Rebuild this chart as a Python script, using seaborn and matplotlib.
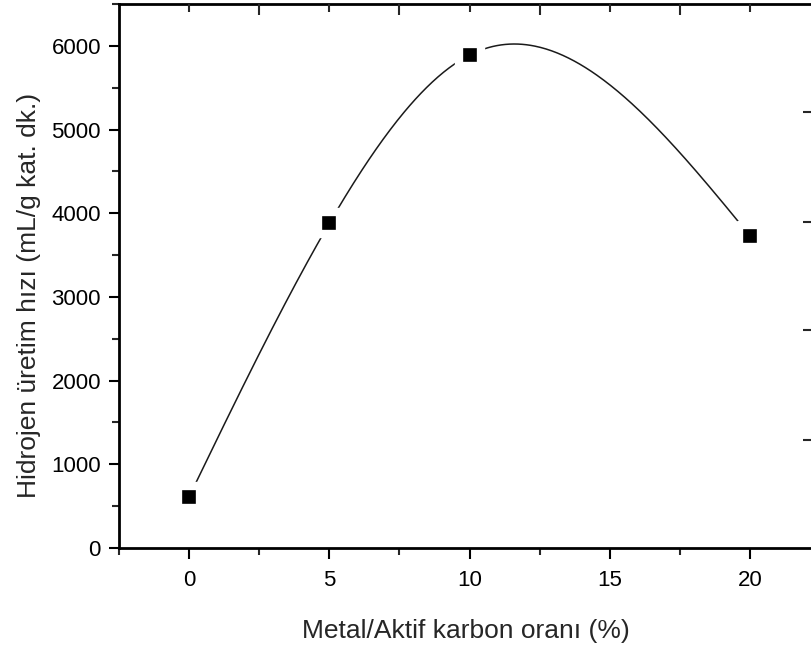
import numpy as np
import pandas as pd
import matplotlib
matplotlib.use("Agg")
import matplotlib.pyplot as plt
import seaborn as sns
from matplotlib.ticker import MultipleLocator, FixedLocator, NullFormatter

# ---- data ----
ratio = [0, 5, 10, 20]                       # Metal/Aktif karbon oranı (%)
rate = [612, 3880, 5890, 3732]               # mL/g kat. dk.
x_ticks = [0, 5, 10, 15, 20]
y_ticks = [0, 1000, 2000, 3000, 4000, 5000, 6000]
right_ticks = [1296, 2604, 3900, 5208]
xlabel = "Metal/Aktif karbon oranı (%)"
ylabel = "Hidrojen üretim hızı (mL/g kat. dk.)"


def natural_spline(xk, yk, xs):
    xk = np.asarray(xk, float)
    yk = np.asarray(yk, float)
    n = len(xk)
    h = np.diff(xk)
    A = np.zeros((n, n))
    b = np.zeros(n)
    A[0, 0] = A[-1, -1] = 1
    for i in range(1, n - 1):
        A[i, i - 1] = h[i - 1]
        A[i, i] = 2 * (h[i - 1] + h[i])
        A[i, i + 1] = h[i]
        b[i] = 6 * ((yk[i + 1] - yk[i]) / h[i] - (yk[i] - yk[i - 1]) / h[i - 1])
    M = np.linalg.solve(A, b)
    out = np.empty_like(xs)
    for j, x in enumerate(xs):
        i = min(max(np.searchsorted(xk, x) - 1, 0), n - 2)
        t1 = xk[i + 1] - x
        t0 = x - xk[i]
        out[j] = (M[i] * t1 ** 3 + M[i + 1] * t0 ** 3) / (6 * h[i]) \
            + (yk[i] / h[i] - M[i] * h[i] / 6) * t1 \
            + (yk[i + 1] / h[i] - M[i + 1] * h[i] / 6) * t0
    return out


xs = np.linspace(ratio[0], ratio[-1], 400)
curve = pd.DataFrame({"x": xs, "y": natural_spline(ratio, rate, xs)})
pts = pd.DataFrame({"x": ratio, "y": rate})

sns.set_style("ticks")
plt.rcParams["font.family"] = ["Liberation Sans", "DejaVu Sans"]

fig = plt.figure(figsize=(8.12, 6.46), dpi=100)
ax = fig.add_axes([119 / 812, 98 / 646, 694 / 812, 544 / 646])

sns.lineplot(data=curve, x="x", y="y", ax=ax, color="#1a1a1a", linewidth=1.1,
             sort=False, estimator=None, zorder=2)
sns.scatterplot(data=pts, x="x", y="y", ax=ax, marker="s", s=256, color="black",
                edgecolor="white", linewidth=6, zorder=3)

ax.set_xlim(-2.5, 22.25)
ax.set_ylim(0, 6500)
ax.xaxis.set_major_locator(FixedLocator(x_ticks))
ax.xaxis.set_minor_locator(MultipleLocator(2.5))
ax.yaxis.set_major_locator(FixedLocator(y_ticks))
ax.yaxis.set_minor_locator(MultipleLocator(500))
ax.tick_params(axis="both", which="major", direction="out", length=7, width=1.5,
               labelsize=16, colors="black", pad=6)
ax.tick_params(axis="both", which="minor", direction="out", length=5, width=1.5)
ax.tick_params(axis="x", which="major", length=8, pad=8)
ax.set_xlabel(xlabel, fontsize=19, labelpad=20)
ax.set_ylabel(ylabel, fontsize=19)
ax.yaxis.set_label_coords(-0.112, 0.465)
for sp in ax.spines.values():
    sp.set_linewidth(2)
    sp.set_color("black")
    sp.set_visible(True)

# top ticks (inward)
axt = ax.twiny()
axt.set_xlim(ax.get_xlim())
axt.xaxis.set_major_locator(FixedLocator([2.5, 7.5, 12.5, 17.5]))
axt.xaxis.set_minor_locator(FixedLocator([0, 5, 10, 15, 20]))
axt.xaxis.set_major_formatter(NullFormatter())
axt.tick_params(axis="x", which="major", direction="in", length=8, width=1.5)
axt.tick_params(axis="x", which="minor", direction="in", length=6, width=1.5)
for sp in axt.spines.values():
    sp.set_visible(False)

# right ticks (inward)
axr = ax.twinx()
axr.set_ylim(ax.get_ylim())
axr.yaxis.set_major_locator(FixedLocator(right_ticks))
axr.yaxis.set_major_formatter(NullFormatter())
axr.tick_params(axis="y", which="major", direction="in", length=7, width=1.5)
for sp in axr.spines.values():
    sp.set_visible(False)

fig.savefig("out.png", dpi=100)
